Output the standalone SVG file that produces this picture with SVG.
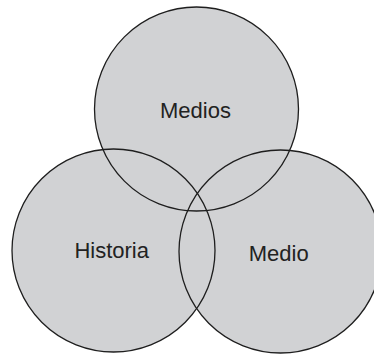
<svg xmlns="http://www.w3.org/2000/svg" width="374" height="354" viewBox="0 0 374 354">
<style>
.c{fill:#d1d2d4;fill-opacity:1;stroke:none}
.o{fill:none;stroke:#1e1e1e;stroke-width:1.3}
.t{font-family:"Liberation Sans",Arial,sans-serif;font-size:22px;fill:#222;text-anchor:middle}
</style>
<rect width="374" height="354" fill="#fff"/>
<g id="fills">
<circle class="c" cx="196.5" cy="109" r="102"/>
<circle class="c" cx="113.5" cy="250.5" r="101.5"/>
<circle class="c" cx="280.5" cy="251.5" r="101.5"/>
</g>
<g id="medios">
<circle class="o" cx="196.5" cy="109" r="102"/>
<text class="t" x="195.5" y="118">Medios</text>
</g>
<g id="historia">
<circle class="o" cx="113.5" cy="250.5" r="101.5"/>
<text class="t" x="111.7" y="258.3">Historia</text>
</g>
<g id="medio">
<circle class="o" cx="280.5" cy="251.5" r="101.5"/>
<text class="t" x="278.7" y="261">Medio</text>
</g>
<g id="connectors"></g>
</svg>
